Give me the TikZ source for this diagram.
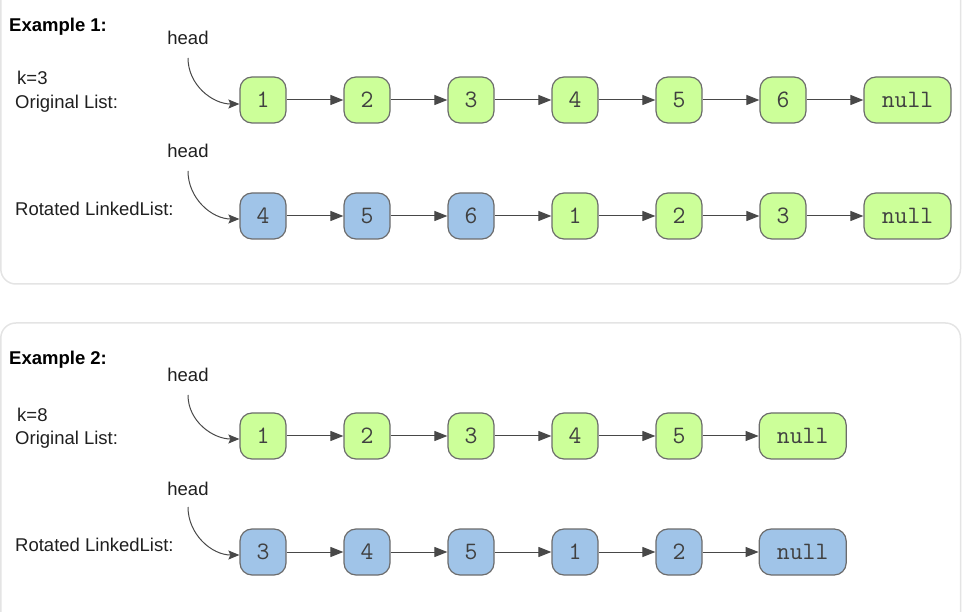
\documentclass[tikz,border=0pt]{standalone}
\usepackage{fontspec}
\setmainfont{Liberation Sans}
\usepackage{tikz}
\usetikzlibrary{arrows.meta, positioning}
\definecolor{listgreen}{RGB}{204,255,153}
\definecolor{listblue}{RGB}{160,196,232}
\definecolor{edgegray}{RGB}{108,108,108}
\definecolor{panelgray}{RGB}{228,228,228}
\definecolor{linkgray}{RGB}{72,72,72}

\begin{document}
\begin{tikzpicture}[x=1pt, y=1pt, node distance=56.8pt,
    item/.style={rectangle, rounded corners=12pt, draw=edgegray, line width=1.2pt,
                 minimum width=46pt, minimum height=46pt, inner sep=0pt,
                 font=\ttfamily\fontsize{25}{25}\selectfont, text=black!75},
    old/.style={item, fill=listgreen},
    moved/.style={item, fill=listblue},
    nil/.style={minimum width=87pt},
    txt/.style={anchor=base west, inner sep=0pt, font=\fontsize{18.5}{22}\selectfont, text=black!88},
    heading/.style={txt, font=\bfseries\fontsize{18.5}{22}\selectfont, text=black},
    headlbl/.style={anchor=base, inner sep=0pt, font=\fontsize{18.5}{22}\selectfont, text=black!88},
    link/.style={-{Triangle[length=13pt, width=10pt]}, line width=1pt, linkgray},
    ptr/.style={-{Stealth[length=11pt, width=9pt, inset=2pt]}, line width=1pt, linkgray},
    panel/.style={draw=panelgray, line width=1.5pt, rounded corners=15pt}
]
\useasboundingbox (0,0) rectangle (962,-612);
\begin{scope}
\clip (0,0) rectangle (962,-612);
\draw[panel] (0.8,40) rectangle (960.5,-284);
\draw[panel] (0.8,-323) rectangle (960.5,-660);
\end{scope}

% example 1
\node[heading] (ex1) at (9,-32) {Example 1:};
\node[txt] (k1) at (17,-85) {k=3};
\node[txt] (orig1) at (15,-109) {Original List:};
\node[headlbl] (hd1) at (188,-45) {head};

\node[old] (a1) at (263,-100) {1};
\node[old, right=of a1] (a2) {2};
\node[old, right=of a2] (a3) {3};
\node[old, right=of a3] (a4) {4};
\node[old, right=of a4] (a5) {5};
\node[old, right=of a5] (a6) {6};
\node[old, nil, right=of a6] (anull) {null};

\draw[ptr] ([yshift=-13pt]hd1.base) to[out=-90, in=180] ([yshift=-4pt]a1.west);
\draw[link] (a1) -- (a2); \draw[link] (a2) -- (a3); \draw[link] (a3) -- (a4);
\draw[link] (a4) -- (a5); \draw[link] (a5) -- (a6); \draw[link] (a6) -- (anull);

\node[txt] (rot1) at (15,-216) {Rotated LinkedList:};
\node[headlbl] (hd2) at (188,-158) {head};

\node[moved] (b1) at (263,-216) {4};
\node[moved, right=of b1] (b2) {5};
\node[moved, right=of b2] (b3) {6};
\node[old, right=of b3] (b4) {1};
\node[old, right=of b4] (b5) {2};
\node[old, right=of b5] (b6) {3};
\node[old, nil, right=of b6] (bnull) {null};

\draw[ptr] ([yshift=-13pt]hd2.base) to[out=-90, in=180] ([yshift=-3pt]b1.west);
\draw[link] (b1) -- (b2); \draw[link] (b2) -- (b3); \draw[link] (b3) -- (b4);
\draw[link] (b4) -- (b5); \draw[link] (b5) -- (b6); \draw[link] (b6) -- (bnull);

% example 2
\node[heading] (ex2) at (9,-365) {Example 2:};
\node[txt] (k2) at (17,-421) {k=8};
\node[txt] (orig2) at (15,-445) {Original List:};
\node[headlbl] (hd3) at (188,-382) {head};

\node[old] (c1) at (263,-436) {1};
\node[old, right=of c1] (c2) {2};
\node[old, right=of c2] (c3) {3};
\node[old, right=of c3] (c4) {4};
\node[old, right=of c4] (c5) {5};
\node[old, nil, right=56pt of c5] (cnull) {null};

\draw[ptr] ([yshift=-13pt]hd3.base) to[out=-90, in=180] ([yshift=-3pt]c1.west);
\draw[link] (c1) -- (c2); \draw[link] (c2) -- (c3); \draw[link] (c3) -- (c4);
\draw[link] (c4) -- (c5); \draw[link] (c5) -- (cnull);

\node[txt] (rot2) at (15,-551) {Rotated LinkedList:};
\node[headlbl] (hd4) at (188,-495) {head};

\node[moved] (d1) at (263,-552) {3};
\node[moved, right=of d1] (d2) {4};
\node[moved, right=of d2] (d3) {5};
\node[moved, right=of d3] (d4) {1};
\node[moved, right=of d4] (d5) {2};
\node[moved, nil, right=56pt of d5] (dnull) {null};

\draw[ptr] ([yshift=-12pt]hd4.base) to[out=-90, in=180] ([yshift=-3pt]d1.west);
\draw[link] (d1) -- (d2); \draw[link] (d2) -- (d3); \draw[link] (d3) -- (d4);
\draw[link] (d4) -- (d5); \draw[link] (d5) -- (dnull);
\end{tikzpicture}
\end{document}
